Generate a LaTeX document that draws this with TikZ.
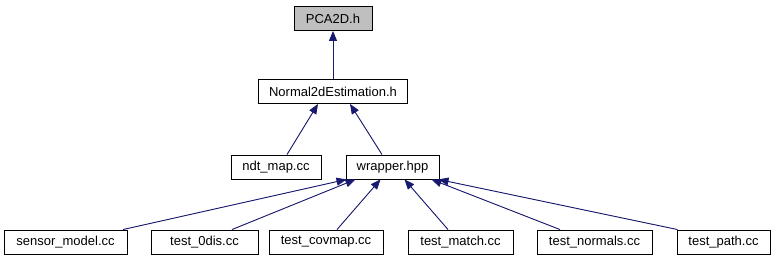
\documentclass[tikz,border=0pt]{standalone}
\usepackage{fontspec}
\setmainfont{Liberation Sans}
\usetikzlibrary{arrows.meta}
\definecolor{edgeblue}{HTML}{191970}
\definecolor{rootgray}{HTML}{BFBFBF}
\tikzset{
  file/.style={draw=black, fill=white, line width=0.9pt, minimum height=24pt,
    inner sep=0pt, font=\fontsize{13}{15}\selectfont},
  root/.style={file, fill=rootgray},
  edge/.style={draw=edgeblue, line width=0.9pt,
    -{Triangle[length=10pt,width=8pt]}, fill=edgeblue},
}
\begin{document}
\begin{tikzpicture}[x=1pt,y=-1pt]
\useasboundingbox (0,0) rectangle (777,261);
% include hierarchy
\node[root, minimum width=78pt] (pca) at (333,18.5) {PCA2D.h};
\node[file, minimum width=149pt] (normal) at (333,91.5) {Normal2dEstimation.h};
\node[file, minimum width=90pt] (ndt) at (276,167) {ndt\_map.cc};
\node[file, minimum width=93pt] (wrapper) at (392.5,167) {wrapper.hpp};
\node[file, minimum width=123pt] (sensor) at (65.5,242) {sensor\_model.cc};
\node[file, minimum width=107pt] (t0dis) at (204.5,242) {test\_0dis.cc};
\node[file, minimum width=114pt] (tcov) at (326,242) {test\_covmap.cc};
\node[file, minimum width=105pt] (tmatch) at (460.5,242) {test\_match.cc};
\node[file, minimum width=115pt] (tnorm) at (594.5,242) {test\_normals.cc};
\node[file, minimum width=93pt] (tpath) at (723.5,242) {test\_path.cc};
% dependency edges
\draw[edge] (normal.north) -- (pca.south);
\draw[edge] ([xshift=11pt]ndt.north) -- ([xshift=-15pt]normal.south);
\draw[edge] ([xshift=-10.5pt]wrapper.north) -- ([xshift=17pt]normal.south);
\draw[edge] ([xshift=57.5pt]sensor.north) -- ([xshift=-46pt]wrapper.south);
\draw[edge] ([xshift=27.5pt]t0dis.north) -- ([xshift=-37pt]wrapper.south);
\draw[edge] ([xshift=11pt]tcov.north) -- ([xshift=-12pt]wrapper.south);
\draw[edge] ([xshift=-12.5pt]tmatch.north) -- ([xshift=12pt]wrapper.south);
\draw[edge] ([xshift=-34.5pt]tnorm.north) -- ([xshift=39pt]wrapper.south);
\draw[edge] ([xshift=-46pt]tpath.north) -- ([xshift=46pt]wrapper.south);
\end{tikzpicture}
\end{document}
